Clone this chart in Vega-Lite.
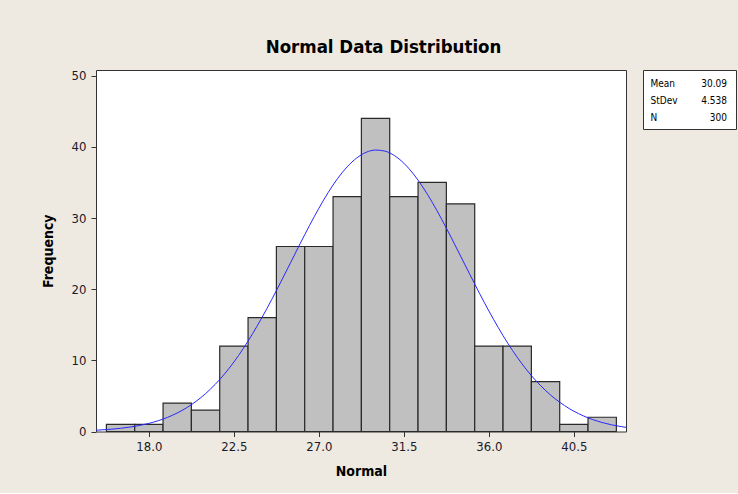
{
  "$schema": "https://vega.github.io/schema/vega-lite/v6.json",
  "background": "#EEEAE1",
  "padding": {"left": 40, "top": 37, "right": 2, "bottom": 14},
  "title": {
    "text": "Normal Data Distribution",
    "font": "DejaVu Sans Condensed, DejaVu Sans",
    "fontSize": 18.5,
    "fontWeight": "bold",
    "color": "#000000",
    "anchor": "middle",
    "dx": -5,
    "offset": 13
  },
  "spacing": 17,
  "bounds": "flush",
  "datasets": {
    "bins": [
      {"lo": 15.75, "hi": 17.25, "count": 1},
      {"lo": 17.25, "hi": 18.75, "count": 1},
      {"lo": 18.75, "hi": 20.25, "count": 4},
      {"lo": 20.25, "hi": 21.75, "count": 3},
      {"lo": 21.75, "hi": 23.25, "count": 12},
      {"lo": 23.25, "hi": 24.75, "count": 16},
      {"lo": 24.75, "hi": 26.25, "count": 26},
      {"lo": 26.25, "hi": 27.75, "count": 26},
      {"lo": 27.75, "hi": 29.25, "count": 33},
      {"lo": 29.25, "hi": 30.75, "count": 44},
      {"lo": 30.75, "hi": 32.25, "count": 33},
      {"lo": 32.25, "hi": 33.75, "count": 35},
      {"lo": 33.75, "hi": 35.25, "count": 32},
      {"lo": 35.25, "hi": 36.75, "count": 12},
      {"lo": 36.75, "hi": 38.25, "count": 12},
      {"lo": 38.25, "hi": 39.75, "count": 7},
      {"lo": 39.75, "hi": 41.25, "count": 1},
      {"lo": 41.25, "hi": 42.75, "count": 2}
    ],
    "curve": [
      {"x": 15.2, "f": 0.18},
      {"x": 16, "f": 0.32},
      {"x": 17, "f": 0.62},
      {"x": 18, "f": 1.14},
      {"x": 19, "f": 2.0},
      {"x": 20, "f": 3.34},
      {"x": 21, "f": 5.32},
      {"x": 22, "f": 8.07},
      {"x": 23, "f": 11.67},
      {"x": 24, "f": 16.08},
      {"x": 25, "f": 21.09},
      {"x": 26, "f": 26.36},
      {"x": 26.5, "f": 28.93},
      {"x": 27, "f": 31.37},
      {"x": 27.5, "f": 33.61},
      {"x": 28, "f": 35.58},
      {"x": 28.5, "f": 37.2},
      {"x": 29, "f": 38.43},
      {"x": 29.5, "f": 39.23},
      {"x": 30, "f": 39.55},
      {"x": 30.5, "f": 39.4},
      {"x": 31, "f": 38.77},
      {"x": 31.5, "f": 37.7},
      {"x": 32, "f": 36.21},
      {"x": 32.5, "f": 34.36},
      {"x": 33, "f": 32.21},
      {"x": 33.5, "f": 29.83},
      {"x": 34, "f": 27.29},
      {"x": 35, "f": 22.03},
      {"x": 36, "f": 16.94},
      {"x": 37, "f": 12.41},
      {"x": 38, "f": 8.66},
      {"x": 39, "f": 5.76},
      {"x": 40, "f": 3.65},
      {"x": 41, "f": 2.2},
      {"x": 42, "f": 1.26},
      {"x": 43, "f": 0.69},
      {"x": 43.26, "f": 0.58}
    ],
    "stats": [
      {"stat": "Mean", "value": "30.09", "row": 1},
      {"stat": "StDev", "value": "4.538", "row": 2},
      {"stat": "N", "value": "300", "row": 3}
    ]
  },
  "config": {
    "view": {"stroke": "#333333", "strokeWidth": 1, "fill": "#FFFFFF"},
    "axis": {
      "labelFont": "DejaVu Sans Condensed, DejaVu Sans",
      "labelFontSize": 13,
      "labelColor": "#1a1a2a",
      "titleFont": "DejaVu Sans Condensed, DejaVu Sans",
      "titleFontSize": 14,
      "titleFontWeight": "bold",
      "titleColor": "#000000",
      "tickColor": "#333333",
      "tickSize": 5,
      "domain": false,
      "grid": false
    }
  },
  "hconcat": [
    {
      "width": 530,
      "height": 361.5,
      "layer": [
        {
          "data": {"name": "bins"},
          "mark": {"type": "rect", "fill": "#C0C0C0", "stroke": "#2a2a2a", "strokeWidth": 1.2},
          "encoding": {
            "x": {
              "field": "lo",
              "type": "quantitative",
              "scale": {"domain": [15.2, 43.26], "nice": false, "zero": false},
              "axis": {
                "values": [18, 22.5, 27, 31.5, 36, 40.5],
                "format": ".1f",
                "title": "Normal",
                "labelPadding": 4,
                "titlePadding": 11
              }
            },
            "x2": {"field": "hi"},
            "y": {
              "field": "count",
              "type": "quantitative",
              "scale": {"domain": [0, 50.8], "nice": false},
              "axis": {
                "values": [0, 10, 20, 30, 40, 50],
                "title": "Frequency",
                "labelPadding": 5,
                "titlePadding": 16
              }
            },
            "y2": {"datum": 0}
          }
        },
        {
          "data": {"name": "curve"},
          "mark": {"type": "line", "color": "#2828FF", "strokeWidth": 1, "interpolate": "monotone", "clip": true},
          "encoding": {
            "x": {"field": "x", "type": "quantitative"},
            "y": {"field": "f", "type": "quantitative"}
          }
        }
      ]
    },
    {
      "width": 93,
      "height": 59,
      "data": {"name": "stats"},
      "layer": [
        {
          "mark": {"type": "text", "align": "left", "baseline": "middle", "font": "DejaVu Sans Condensed, DejaVu Sans", "fontSize": 10, "color": "#000000"},
          "encoding": {
            "x": {"datum": 0, "type": "quantitative", "scale": {"domain": [-0.098, 1.118], "nice": false, "zero": false}, "axis": null},
            "y": {"field": "row", "type": "quantitative", "scale": {"domain": [0.2, 3.67], "reverse": true, "nice": false, "zero": false}, "axis": null},
            "text": {"field": "stat"}
          }
        },
        {
          "mark": {"type": "text", "align": "right", "baseline": "middle", "font": "DejaVu Sans Condensed, DejaVu Sans", "fontSize": 10, "color": "#000000"},
          "encoding": {
            "x": {"datum": 1, "type": "quantitative"},
            "y": {"field": "row", "type": "quantitative"},
            "text": {"field": "value"}
          }
        }
      ]
    }
  ]
}
